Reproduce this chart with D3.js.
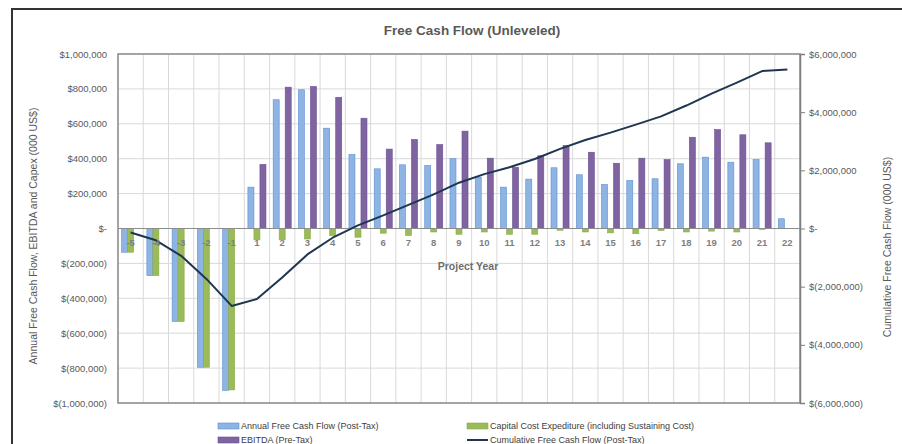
<!DOCTYPE html>
<meta charset="utf-8">
<script src="https://cdn.jsdelivr.net/npm/d3@7"></script>
<style>

body {
  margin: 0;
  background: #fff;
}

text {
  font-family: "Liberation Sans", Arial, sans-serif;
  fill: #595959;
}

.grid line {
  stroke: #d9d9d9;
  stroke-width: 1px;
}

</style>
<body>
<script>

// get the data
var years = ["-5", "-4", "-3", "-2", "-1", "1", "2", "3", "4", "5", "6", "7", "8", "9", "10",
             "11", "12", "13", "14", "15", "16", "17", "18", "19", "20", "21", "22"];

// annual free cash flow (post-tax), 000 US$
var fcf = [-136, -270, -533, -795, -928, 237, 738, 795, 575, 424, 342, 365, 361, 400, 294,
           237, 283, 348, 308, 252, 275, 285, 371, 409, 380, 395, 56];

// capital cost expenditure
var capex = [-136, -270, -533, -795, -925, -65, -65, -60, -40, -50, -27, -40, -20, -33, -20,
             -33, -33, -10, -20, -25, -30, -12, -20, -15, -20, -5, 0];

// EBITDA (pre-tax)
var ebitda = [0, 0, 0, 0, 0, 367, 810, 814, 752, 632, 455, 510, 481, 558, 403,
              351, 417, 476, 437, 374, 403, 395, 523, 567, 537, 491, 0];

// cumulative free cash flow (post-tax)
var cumulative = [-136, -406, -939, -1734, -2662, -2425, -1687, -892, -317, 107, 449, 814, 1175, 1575, 1869,
                  2106, 2389, 2737, 3045, 3297, 3572, 3857, 4228, 4637, 5017, 5412, 5468];

var leftTicks = [1000000, 800000, 600000, 400000, 200000, 0, -200000, -400000, -600000, -800000, -1000000];
var rightTicks = [6000000, 4000000, 2000000, 0, -2000000, -4000000, -6000000];

var width = 902,
    height = 444;

var plotLeft = 118, plotRight = 800, plotTop = 54, plotBottom = 403;

var svg = d3.select("body").append("svg")
    .attr("width", width)
    .attr("height", height);

// outer frame
svg.append("rect")
    .attr("x", 12).attr("y", 9)
    .attr("width", 1000).attr("height", 1000)
    .attr("fill", "none")
    .attr("stroke", "#333")
    .attr("stroke-width", 2);

var x = d3.scaleBand()
    .domain(years)
    .range([plotLeft, plotRight]);

var series = ["fcf", "capex", "ebitda"];
var xSub = d3.scaleBand()
    .domain(series)
    .range([0, x.bandwidth()])
    .paddingOuter(0.6);

var yLeft = d3.scaleLinear()
    .domain([-1000000, 1000000])
    .range([plotBottom, plotTop]);

var yRight = d3.scaleLinear()
    .domain([-6000000, 6000000])
    .range([plotBottom, plotTop]);

function money(v) {
  if (v == 0) return "$-";
  var s = d3.format(",")(Math.abs(v));
  return v < 0 ? "$(" + s + ")" : "$" + s;
}

// grid
var grid = svg.append("g").attr("class", "grid");
grid.selectAll(".h")
    .data(leftTicks)
  .enter().append("line")
    .attr("x1", plotLeft).attr("x2", plotRight)
    .attr("y1", function(d) { return yLeft(d); })
    .attr("y2", function(d) { return yLeft(d); });
grid.selectAll(".v")
    .data(years)
  .enter().append("line")
    .attr("x1", function(d) { return x(d); })
    .attr("x2", function(d) { return x(d); })
    .attr("y1", plotTop).attr("y2", plotBottom);

// bars
var colors = {fcf: "#8db4e3", capex: "#9bbb59", ebitda: "#8064a2"};
var strokes = {fcf: "#5b8fd0", capex: "#8aab4a", ebitda: "#6a5090"};
var values = {fcf: fcf, capex: capex, ebitda: ebitda};

series.forEach(function(s) {
  svg.append("g")
    .selectAll("rect")
    .data(years)
  .enter().append("rect")
    .attr("x", function(d) { return x(d) + xSub(s); })
    .attr("width", xSub.bandwidth())
    .attr("y", function(d, i) { return yLeft(Math.max(0, values[s][i] * 1000)); })
    .attr("height", function(d, i) { return Math.abs(yLeft(values[s][i] * 1000) - yLeft(0)); })
    .attr("fill", colors[s])
    .attr("stroke", function(d, i) { return values[s][i] == 0 ? "none" : strokes[s]; })
    .attr("stroke-width", 0.6);
});

// plot border and zero line
svg.append("rect")
    .attr("x", plotLeft).attr("y", plotTop)
    .attr("width", plotRight - plotLeft).attr("height", plotBottom - plotTop)
    .attr("fill", "none")
    .attr("stroke", "#8c8c8c")
    .attr("stroke-width", 1.5);

svg.append("line")
    .attr("x1", plotLeft).attr("x2", plotRight)
    .attr("y1", yLeft(0)).attr("y2", yLeft(0))
    .attr("stroke", "#8c8c8c")
    .attr("stroke-width", 1.2);

// cumulative line
var line = d3.line()
    .x(function(d, i) { return x(years[i]) + x.bandwidth() / 2; })
    .y(function(d) { return yRight(d * 1000); });

svg.append("path")
    .datum(cumulative)
    .attr("d", line)
    .attr("fill", "none")
    .attr("stroke", "#1f3550")
    .attr("stroke-width", 2)
    .attr("stroke-linejoin", "round");

// category labels under the zero line
svg.append("g")
    .selectAll("text")
    .data(years)
  .enter().append("text")
    .attr("x", function(d) { return x(d) + x.bandwidth() / 2; })
    .attr("y", yLeft(0) + 17)
    .attr("text-anchor", "middle")
    .style("font-size", "9.5px")
    .style("font-weight", "bold")
    .style("fill", "#7f7f7f")
    .text(function(d) { return d; });

svg.append("text")
    .attr("x", 468).attr("y", 270)
    .attr("text-anchor", "middle")
    .style("font-size", "10.5px")
    .style("font-weight", "bold")
    .style("fill", "#6d6d6d")
    .text("Project Year");

// left axis
var leftAxis = d3.axisLeft(yLeft)
    .tickValues(leftTicks)
    .tickFormat(money)
    .tickSize(0)
    .tickPadding(11);

var gl = svg.append("g")
    .attr("transform", "translate(" + plotLeft + ",0)")
    .call(leftAxis);
gl.select(".domain").remove();
gl.selectAll("text")
    .style("font-size", "9.5px")
    .style("font-family", "Liberation Sans, Arial, sans-serif")
    .style("fill", "#595959");

// right axis
var rightAxis = d3.axisRight(yRight)
    .tickValues(rightTicks)
    .tickFormat(money)
    .tickSize(5)
    .tickPadding(4);

var gr = svg.append("g")
    .attr("transform", "translate(" + plotRight + ",0)")
    .call(rightAxis);
gr.select(".domain").attr("stroke", "#7f7f7f").attr("stroke-width", 1.5);
gr.selectAll("line").attr("stroke", "#7f7f7f");
gr.selectAll("text")
    .style("font-size", "9.5px")
    .style("font-family", "Liberation Sans, Arial, sans-serif")
    .style("fill", "#595959");

// titles
svg.append("text")
    .attr("x", 472).attr("y", 35)
    .attr("text-anchor", "middle")
    .style("font-size", "13.5px")
    .style("font-weight", "bold")
    .text("Free Cash Flow (Unleveled)");

svg.append("text")
    .attr("transform", "translate(37,236) rotate(-90)")
    .attr("text-anchor", "middle")
    .style("font-size", "10.5px")
    .text("Annual Free Cash Flow, EBITDA and Capex (000 US$)");

svg.append("text")
    .attr("transform", "translate(891,247) rotate(-90)")
    .attr("text-anchor", "middle")
    .style("font-size", "10.5px")
    .text("Cumulative Free Cash Flow (000 US$)");

// legend
var legend = [
  {name: "Annual Free Cash Flow (Post-Tax)", type: "bar", key: "fcf", x: 218, y: 426},
  {name: "Capital Cost Expediture (including Sustaining Cost)", type: "bar", key: "capex", x: 467, y: 426},
  {name: "EBITDA (Pre-Tax)", type: "bar", key: "ebitda", x: 218, y: 440},
  {name: "Cumulative Free Cash Flow (Post-Tax)", type: "line", key: "cum", x: 467, y: 440}
];

var lg = svg.append("g")
    .selectAll("g")
    .data(legend)
  .enter().append("g")
    .attr("transform", function(d) { return "translate(" + d.x + "," + d.y + ")"; });

lg.filter(function(d) { return d.type == "bar"; })
  .append("rect")
    .attr("x", 0).attr("y", -3)
    .attr("width", 21).attr("height", 6)
    .attr("fill", function(d) { return colors[d.key]; })
    .attr("stroke", function(d) { return strokes[d.key]; })
    .attr("stroke-width", 0.6);

lg.filter(function(d) { return d.type == "line"; })
  .append("line")
    .attr("x1", 0).attr("x2", 21)
    .attr("y1", 0).attr("y2", 0)
    .attr("stroke", "#1f3550")
    .attr("stroke-width", 2);

lg.append("text")
    .attr("x", 23)
    .attr("dy", "0.35em")
    .style("font-size", "9px")
    .style("fill", "#404040")
    .text(function(d) { return d.name; });

</script>
</body>
</html>
